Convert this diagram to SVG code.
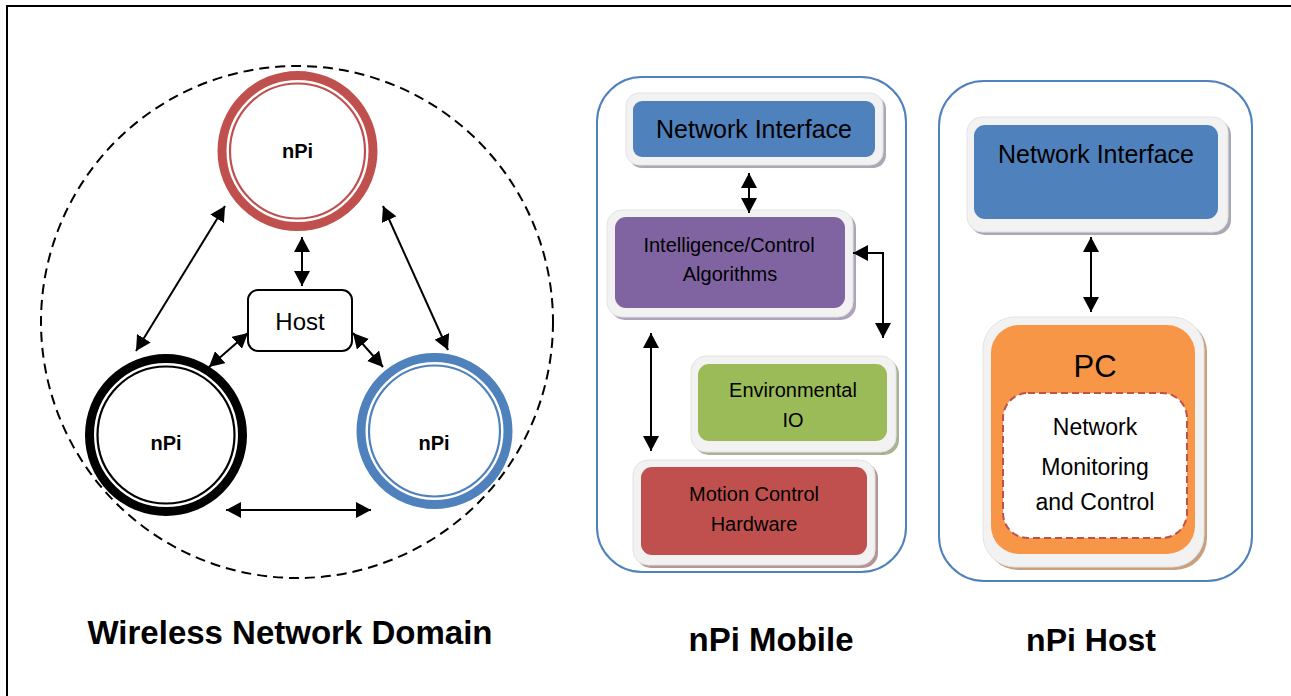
<svg xmlns="http://www.w3.org/2000/svg" width="1291" height="696" viewBox="0 0 1291 696">
<style>
text{font-family:"Liberation Sans",Arial,sans-serif;fill:#000;text-anchor:middle}
.b{font-weight:bold}
.cnt{fill:#fff;stroke:#4f81bd;stroke-width:2}
.frame{fill:#f2f2f2;stroke:#e3e3e3;stroke-width:1}
.ln{fill:none;stroke:#000;stroke-width:2;marker-start:url(#ah);marker-end:url(#ah)}
</style>
<defs>
<marker id="ah" markerUnits="userSpaceOnUse" markerWidth="16" markerHeight="16" refX="15" refY="8" orient="auto-start-reverse" viewBox="0 0 16 16">
<path d="M0,0 L15,8 L0,16 z" fill="#000"/>
</marker>
</defs>
<rect width="1291" height="696" fill="#fff"/>
<path d="M7,696 V6 H1291" fill="none" stroke="#000" stroke-width="2"/>

<g id="domain">
<circle cx="297" cy="322" r="256" fill="none" stroke="#000" stroke-width="2" stroke-dasharray="10,6"/>
</g>
<g id="npi-top">
<circle cx="297.5" cy="151" r="75.5" fill="#fff" stroke="#c0504d" stroke-width="9"/>
<circle cx="297.5" cy="151" r="67.5" fill="none" stroke="#c0504d" stroke-width="2.2"/>
<text x="297.5" y="158" class="b" font-size="20">nPi</text>
</g>
<g id="npi-left">
<circle cx="166" cy="435" r="76.5" fill="#fff" stroke="#000" stroke-width="9"/>
<circle cx="166" cy="435" r="68.5" fill="none" stroke="#000" stroke-width="2.2"/>
<text x="166" y="450" class="b" font-size="20">nPi</text>
</g>
<g id="npi-right">
<circle cx="434.5" cy="431" r="73.5" fill="#fff" stroke="#4f81bd" stroke-width="9"/>
<circle cx="434.5" cy="431" r="65.5" fill="none" stroke="#4f81bd" stroke-width="2.2"/>
<text x="434" y="450" class="b" font-size="20">nPi</text>
</g>
<g id="host">
<rect x="248" y="290" width="104" height="61" rx="10" fill="#fff" stroke="#000" stroke-width="2"/>
<text x="300" y="330" font-size="24">Host</text>
</g>

<g id="mobile">
<rect class="cnt" x="597" y="77" width="309" height="495" rx="45"/>
</g>
<g id="mobile-ni">
<rect x="629" y="96" width="257" height="72" rx="13" fill="#a7a9b4"/>
<rect class="frame" x="626" y="93" width="257" height="72" rx="13"/>
<rect x="633" y="101" width="242" height="56" rx="9" fill="#4f81bd"/>
<text x="754" y="138" font-size="25">Network Interface</text>
</g>
<g id="intelligence">
<rect x="610" y="213" width="246" height="107" rx="15" fill="#ada3ba"/>
<rect class="frame" x="607" y="210" width="246" height="107" rx="15"/>
<rect x="615" y="217" width="230" height="91" rx="11" fill="#8064a2"/>
<text x="729" y="252" font-size="20">Intelligence/Control</text>
<text x="730" y="281" font-size="20">Algorithms</text>
</g>
<g id="environmental">
<rect x="694" y="359" width="205" height="96" rx="15" fill="#a9b394"/>
<rect class="frame" x="691" y="356" width="205" height="96" rx="15"/>
<rect x="698" y="364" width="189" height="77" rx="11" fill="#9bbb59"/>
<text x="793" y="397" font-size="20">Environmental</text>
<text x="793" y="427" font-size="20">IO</text>
</g>
<g id="motion">
<rect x="636" y="463" width="242" height="105" rx="15" fill="#b59595"/>
<rect class="frame" x="633" y="460" width="242" height="105" rx="15"/>
<rect x="641" y="467" width="226" height="88" rx="11" fill="#c0504d"/>
<text x="754" y="501" font-size="20">Motion Control</text>
<text x="754" y="531" font-size="20">Hardware</text>
</g>

<g id="hostpanel">
<rect class="cnt" x="939" y="81" width="313" height="500" rx="45"/>
</g>
<g id="host-ni">
<rect x="970" y="120" width="261" height="115" rx="15" fill="#a7a9b4"/>
<rect class="frame" x="967" y="117" width="261" height="115" rx="15"/>
<rect x="974" y="125" width="244" height="94" rx="11" fill="#4f81bd"/>
<text x="1096" y="163" font-size="25">Network Interface</text>
</g>
<g id="pc">
<rect x="986" y="320" width="221" height="250" rx="32" fill="#c9a07e"/>
<rect class="frame" x="983" y="317" width="221" height="250" rx="32"/>
<rect x="991" y="325" width="204" height="229" rx="28" fill="#f79646"/>
<text x="1095" y="377" font-size="31">PC</text>
</g>
<g id="monitoring">
<rect x="1003" y="393" width="184" height="145" rx="25" fill="#fff" stroke="#c0504d" stroke-width="2" stroke-dasharray="7,4"/>
<text x="1095" y="435" font-size="23">Network</text>
<text x="1095" y="475" font-size="23">Monitoring</text>
<text x="1095" y="510" font-size="23">and Control</text>
</g>

<g id="connectors">
<line class="ln" x1="302" y1="237" x2="302" y2="286"/>
<line class="ln" x1="225" y1="206" x2="136" y2="351"/>
<line class="ln" x1="383" y1="206" x2="448" y2="350"/>
<line class="ln" x1="248" y1="333" x2="209" y2="367"/>
<line class="ln" x1="353" y1="333" x2="383" y2="367"/>
<line class="ln" x1="226" y1="510" x2="371" y2="510"/>
<line class="ln" x1="749" y1="173" x2="749" y2="213"/>
<path class="ln" d="M853,253 H883 V338"/>
<line class="ln" x1="651" y1="333" x2="651" y2="451"/>
<line class="ln" x1="1091" y1="237" x2="1091" y2="312"/>
</g>

<g id="labels">
<text x="290" y="644" class="b" font-size="33">Wireless Network Domain</text>
<text x="771" y="651" class="b" font-size="33">nPi Mobile</text>
<text x="1091" y="651" class="b" font-size="32">nPi Host</text>
</g>
</svg>
